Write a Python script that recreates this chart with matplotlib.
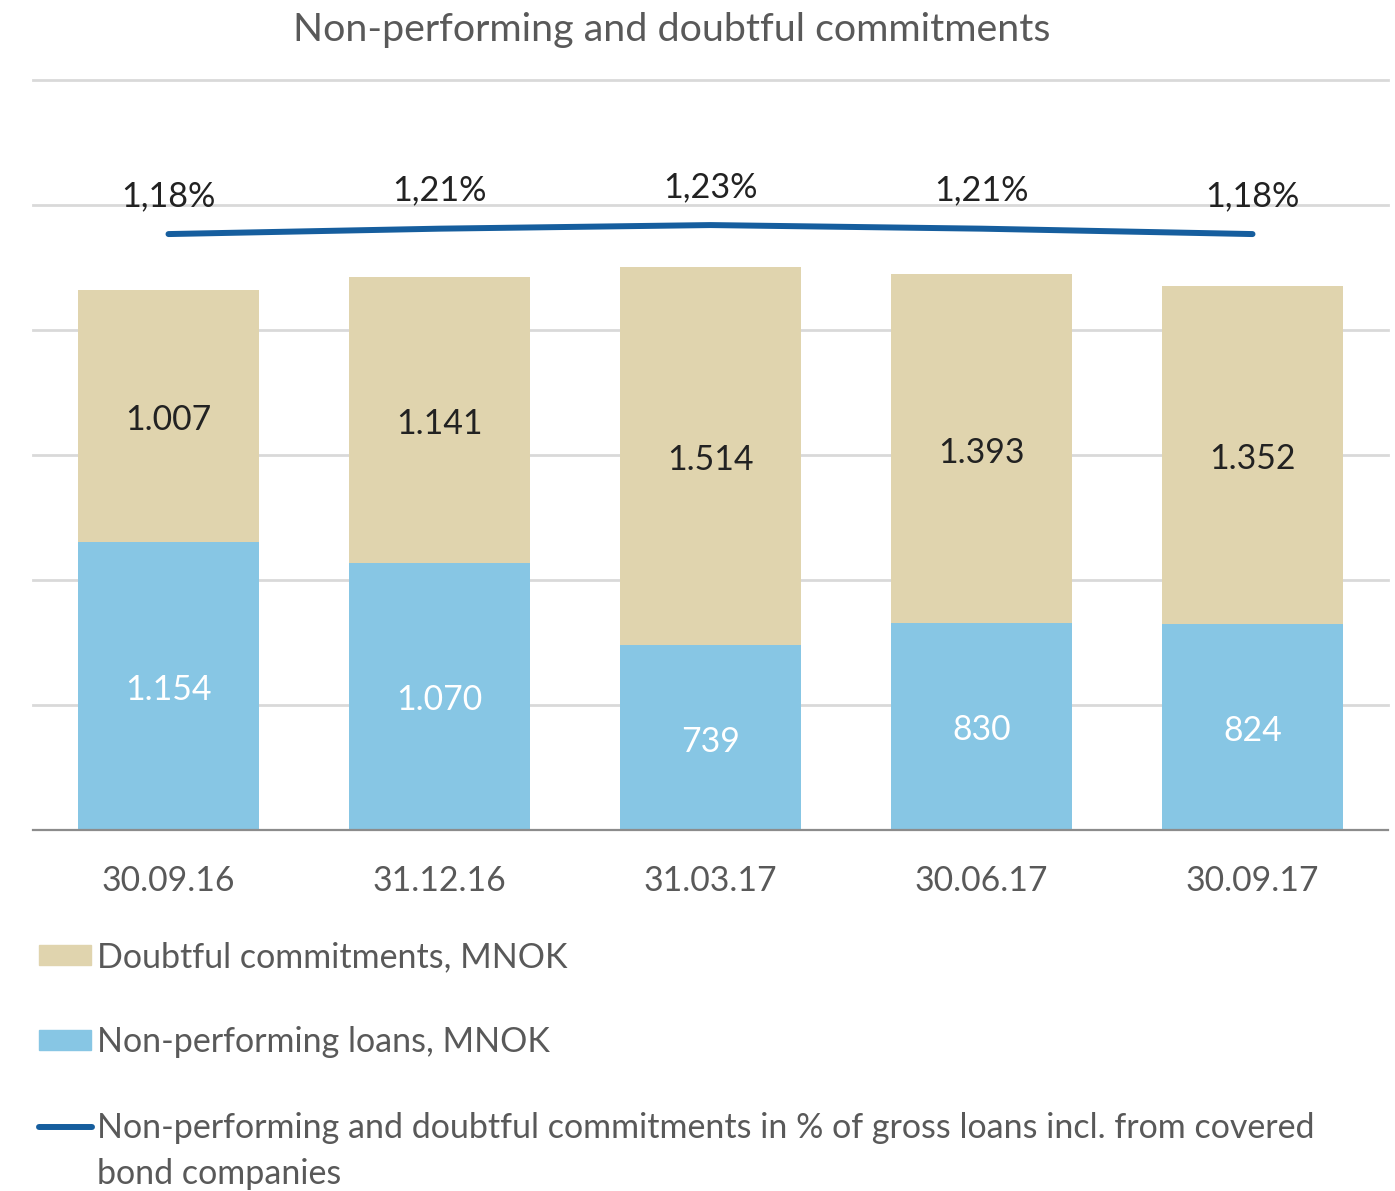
"""Stacked bar chart of non-performing and doubtful commitments with ratio line."""

import matplotlib

matplotlib.use("Agg")

import matplotlib.pyplot as plt
from matplotlib.lines import Line2D
from matplotlib.patches import Rectangle

plt.rcParams["font.family"] = ["Lato", "DejaVu Sans"]

# data
periods = ["30.09.16", "31.12.16", "31.03.17", "30.06.17", "30.09.17"]
non_performing = [1154, 1070, 739, 830, 824]
doubtful = [1007, 1141, 1514, 1393, 1352]
ratio_pct = [1.18, 1.21, 1.23, 1.21, 1.18]
grid_levels = [500, 1000, 1500, 2000, 2500, 3000]

legend_labels = [
    "Doubtful commitments, MNOK",
    "Non-performing loans, MNOK",
    "Non-performing and doubtful commitments in % of gross loans incl. from covered\nbond companies",
]

TAN = "#e0d4ae"
BLUE = "#87c6e4"
LINE = "#165e9e"
TEXT_GRAY = "#595959"
GRID = "#d9d9d9"

W, H = 1395, 1191


def fx(px):
    return px / W


def fy(py):
    return 1 - py / H


def fmt_int(v):
    return f"{v:,}".replace(",", ".")


fig = plt.figure(figsize=(W / 100, H / 100), dpi=100)
ax = fig.add_axes([fx(33), fy(830), fx(1388) - fx(33), fy(80) - fy(830)])

x = list(range(len(periods)))
bar_w = 0.668
ax.bar(x, non_performing, width=bar_w, color=BLUE, zorder=2)
ax.bar(x, doubtful, width=bar_w, bottom=non_performing, color=TAN, zorder=2)

for level in grid_levels:
    ax.axhline(level, color=GRID, linewidth=2, zorder=0, clip_on=False)

for i in x:
    ax.annotate(fmt_int(non_performing[i]), (i, non_performing[i] / 2), xytext=(0, -3),
                textcoords="offset points", ha="center", va="center",
                fontsize=24.3, color="white", zorder=3)
    ax.annotate(fmt_int(doubtful[i]), (i, non_performing[i] + doubtful[i] / 2), xytext=(0, -3),
                textcoords="offset points", ha="center", va="center",
                fontsize=24.3, color="#222222", zorder=3)

ax.set_xlim(-0.5, len(periods) - 0.5)
ax.set_ylim(0, 3000)
ax.set_xticks(x)
ax.set_xticklabels(periods, fontsize=24.3, color=TEXT_GRAY)
ax.tick_params(axis="x", length=0, pad=25)
ax.set_yticks([])
for side in ("top", "left", "right"):
    ax.spines[side].set_visible(False)
ax.spines["bottom"].set_color("#8c8c8c")
ax.spines["bottom"].set_linewidth(1.6)

# ratio line on a hidden secondary axis
ax2 = ax.twinx()
ax2.plot(x, ratio_pct, color=LINE, linewidth=4.3, solid_capstyle="round", zorder=4)
ax2.set_ylim(-2.131, 2.036)
ax2.set_axis_off()
for i, v in zip(x, ratio_pct):
    ax2.annotate(f"{v:.2f}%".replace(".", ","), (i, v), xytext=(0, 27.5),
                 textcoords="offset points", ha="center", va="center",
                 fontsize=24.6, color="#222222")

fig.text(fx(672), fy(30), "Non-performing and doubtful commitments", ha="center",
         va="center", fontsize=28.4, color=TEXT_GRAY)

# legend drawn by hand so the wrapped label keeps its handle on the first line
fig.add_artist(Rectangle((fx(39), fy(965)), fx(91) - fx(39), fy(945) - fy(965),
                         transform=fig.transFigure, color=TAN))
fig.add_artist(Rectangle((fx(39), fy(1050)), fx(91) - fx(39), fy(1030) - fy(1050),
                         transform=fig.transFigure, color=BLUE))
fig.add_artist(Line2D([fx(39), fx(92)], [fy(1127), fy(1127)], transform=fig.transFigure,
                      color=LINE, linewidth=4.3, solid_capstyle="round"))
fig.text(fx(97), fy(957), legend_labels[0], ha="left", va="center", fontsize=24.5,
         color=TEXT_GRAY)
fig.text(fx(97), fy(1042), legend_labels[1], ha="left", va="center", fontsize=24.5,
         color=TEXT_GRAY)
fig.text(fx(97), fy(1112), legend_labels[2], ha="left", va="top", fontsize=24.5,
         color=TEXT_GRAY, linespacing=1.55)

fig.savefig("out.png", dpi=100)
